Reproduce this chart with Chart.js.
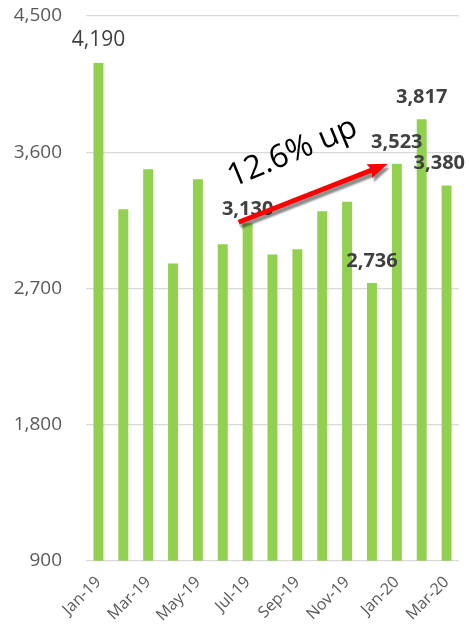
<!DOCTYPE html>
<html>
<head>
<meta charset="utf-8">
<script src="https://cdn.jsdelivr.net/npm/chart.js@4"></script>
<style>
  html, body { margin: 0; padding: 0; background: #fff; }
  #wrap { width: 469px; height: 625px; position: relative; }
</style>
</head>
<body>
<div id="wrap"><canvas id="myChart"></canvas></div>
<script>
// donnees du graphique
const months = ['Jan-19', 'Feb-19', 'Mar-19', 'Apr-19', 'May-19', 'Jun-19', 'Jul-19', 'Aug-19',
    'Sep-19', 'Oct-19', 'Nov-19', 'Dec-19', 'Jan-20', 'Feb-20', 'Mar-20'];
const values = [4190, 3222, 3487, 2865, 3421, 2991, 3130, 2924, 2958, 3209, 3273, 2736, 3523, 3817, 3380];
const labelledBars = [0, 6, 11, 12, 13, 14];
const yTicks = [900, 1800, 2700, 3600, 4500];
const trendFrom = 6;   // Jul-19
const trendTo = 12;    // Jan-20
const trendText = '12.6% up';

const FONT = "'Open Sans', sans-serif";

// etiquettes au-dessus des barres
const valueLabels = {
    id: 'valueLabels',
    afterDatasetsDraw(chart) {
        const ctx = chart.ctx;
        const meta = chart.getDatasetMeta(0);
        ctx.save();
        ctx.textAlign = 'center';
        ctx.textBaseline = 'bottom';
        labelledBars.forEach(i => {
            const bar = meta.data[i];
            const txt = values[i].toLocaleString('en-US');
            ctx.font = i === 0 ? '21px ' + FONT : 'bold 20px ' + FONT;
            ctx.fillStyle = '#404040';
            let x = bar.x;
            const w = ctx.measureText(txt).width;
            if (x + w / 2 > chart.width - 4) x = chart.width - 4 - w / 2;
            // l'etiquette de juillet est plus pres de la barre
            const gap = i === trendFrom ? 4 : 12;
            ctx.fillText(txt, x, bar.y - gap);
        });
        ctx.restore();
    }
};

// fleche de tendance
const trendArrow = {
    id: 'trendArrow',
    afterDraw(chart) {
        const ctx = chart.ctx;
        const meta = chart.getDatasetMeta(0);
        const a = meta.data[trendFrom], b = meta.data[trendTo];
        const x1 = a.x - 9, y1 = a.y - 1;
        const x2 = b.x - 9, y2 = b.y;
        const ang = Math.atan2(y2 - y1, x2 - x1);
        const len = Math.hypot(x2 - x1, y2 - y1);
        ctx.save();
        ctx.translate(x1, y1);
        ctx.rotate(ang);
        ctx.shadowColor = 'rgba(0,0,0,0.45)';
        ctx.shadowOffsetX = 2;
        ctx.shadowOffsetY = 4;
        ctx.shadowBlur = 2;
        ctx.fillStyle = '#ff0000';
        ctx.beginPath();
        ctx.moveTo(0, -2.5);
        ctx.lineTo(len - 18, -2.5);
        ctx.lineTo(len - 20, -7.5);
        ctx.lineTo(len, 0);
        ctx.lineTo(len - 20, 7.5);
        ctx.lineTo(len - 18, 2.5);
        ctx.lineTo(0, 2.5);
        ctx.closePath();
        ctx.fill();
        ctx.restore();

        ctx.save();
        ctx.translate(x1 - 6, y1 - 35);
        ctx.rotate(ang - 0.02);
        ctx.font = '32px ' + FONT;
        ctx.fillStyle = '#000';
        ctx.textAlign = 'left';
        ctx.textBaseline = 'alphabetic';
        ctx.fillText(trendText, 0, 0);
        ctx.restore();
    }
};

const data = {
    labels: months,
    datasets: [{
        data: values,
        backgroundColor: '#92d050',
        borderWidth: 0,
        barPercentage: 0.5,
        categoryPercentage: 0.8
    }]
};

const config = {
    type: 'bar',
    data,
    options: {
        responsive: true,
        maintainAspectRatio: false,
        animation: false,
        layout: { padding: { top: 16, right: 10, left: 0, bottom: -4 } },
        plugins: {
            legend: { display: false },
            tooltip: { enabled: false }
        },
        scales: {
            y: {
                min: yTicks[0],
                max: yTicks[yTicks.length - 1],
                afterBuildTicks: axis => { axis.ticks = yTicks.map(v => ({ value: v })); },
                afterFit: axis => {
                    axis.width = 86;
                    axis.paddingTop = 0;
                    axis.paddingBottom = 0;
                },
                border: { display: false },
                grid: { color: '#d9d9d9', lineWidth: 1.3, drawTicks: false },
                ticks: {
                    color: '#595959',
                    font: { family: FONT, size: 19 },
                    padding: 24,
                    callback: v => v.toLocaleString('en-US')
                }
            },
            x: {
                border: { display: false },
                grid: { display: false },
                ticks: {
                    autoSkip: false,
                    minRotation: 45,
                    maxRotation: 45,
                    color: '#595959',
                    font: { family: FONT, size: 16 },
                    padding: 4,
                    callback: function (v, i) { return i % 2 === 0 ? this.getLabelForValue(v) : ''; }
                }
            }
        }
    },
    plugins: [valueLabels, trendArrow]
};

const mychart = new Chart(document.getElementById('myChart'), config);
</script>
</body>
</html>
